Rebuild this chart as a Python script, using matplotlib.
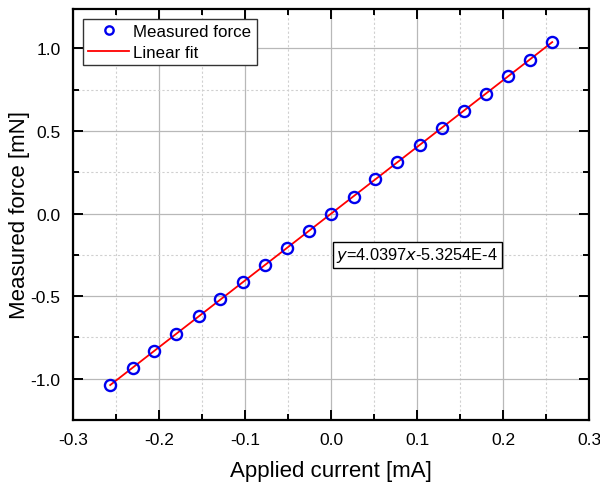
import matplotlib
matplotlib.use("Agg")
import matplotlib.pyplot as plt
from matplotlib.ticker import MultipleLocator, FormatStrFormatter
import numpy as np

plt.rcParams['font.family'] = ['Liberation Sans', 'DejaVu Sans']

current = [-0.257, -0.231, -0.206, -0.180, -0.154, -0.129, -0.103, -0.077, -0.051, -0.026,
           0.0, 0.026, 0.051, 0.077, 0.103, 0.129, 0.154, 0.180, 0.206, 0.231, 0.257]
force = [-1.040, -0.935, -0.830, -0.728, -0.623, -0.520, -0.417, -0.312, -0.207, -0.104,
         0.0, 0.103, 0.207, 0.312, 0.415, 0.520, 0.623, 0.726, 0.830, 0.932, 1.037]
slope = 4.0397
intercept = -5.3254e-4
fit_label = "$y$=4.0397$x$-5.3254E-4"

fig = plt.figure(figsize=(6, 4.85), dpi=100)
ax = fig.add_axes([0.122, 0.132, 0.860, 0.848])

xf = np.array([current[0], current[-1]])
ax.plot(current, force, 'o', mfc='none', mec='#0000ee', mew=1.7, ms=8, label='Measured force', zorder=3)
ax.plot(xf, slope * xf + intercept, '-', color='#ff0000', lw=1.3, label='Linear fit', zorder=2)

ax.set_xlim(-0.3, 0.3)
ax.set_ylim(-1.25, 1.24)
ax.xaxis.set_major_locator(MultipleLocator(0.1))
ax.xaxis.set_minor_locator(MultipleLocator(0.05))
ax.yaxis.set_major_locator(MultipleLocator(0.5))
ax.yaxis.set_minor_locator(MultipleLocator(0.25))
ax.xaxis.set_major_formatter(FormatStrFormatter('%.1f'))
ax.yaxis.set_major_formatter(FormatStrFormatter('%.1f'))
ax.grid(which='major', color='#b8b8b8', lw=0.9, ls='-')
ax.grid(which='minor', color='#d0d0d0', lw=0.8, ls=(0, (2, 2)))
ax.set_axisbelow(True)
ax.tick_params(which='both', direction='in', top=True, right=True, width=1.4, labelsize=12.5)
ax.tick_params(which='major', length=7, pad=9)
ax.tick_params(which='minor', length=4)
for s in ax.spines.values():
    s.set_linewidth(1.6)

ax.set_xlabel('Applied current [mA]', fontsize=16, va='center')
ax.set_ylabel('Measured force [mN]', fontsize=16, va='center')
ax.xaxis.set_label_coords(0.5, -0.122)
ax.yaxis.set_label_coords(-0.105, 0.5)

leg = ax.legend(loc='upper left', fontsize=12.2, fancybox=False, edgecolor='#333333',
                framealpha=1, borderpad=0.3, handlelength=2.4, handletextpad=0.25,
                labelspacing=0.35, borderaxespad=0.6, markerscale=0.75)
leg.get_frame().set_linewidth(1.0)

ax.text(0.006, -0.25, fit_label, fontsize=11.8, va='center', ha='left',
        bbox=dict(boxstyle='square,pad=0.2', fc='white', ec='black', lw=1.0))

fig.savefig('out.png', dpi=100)
